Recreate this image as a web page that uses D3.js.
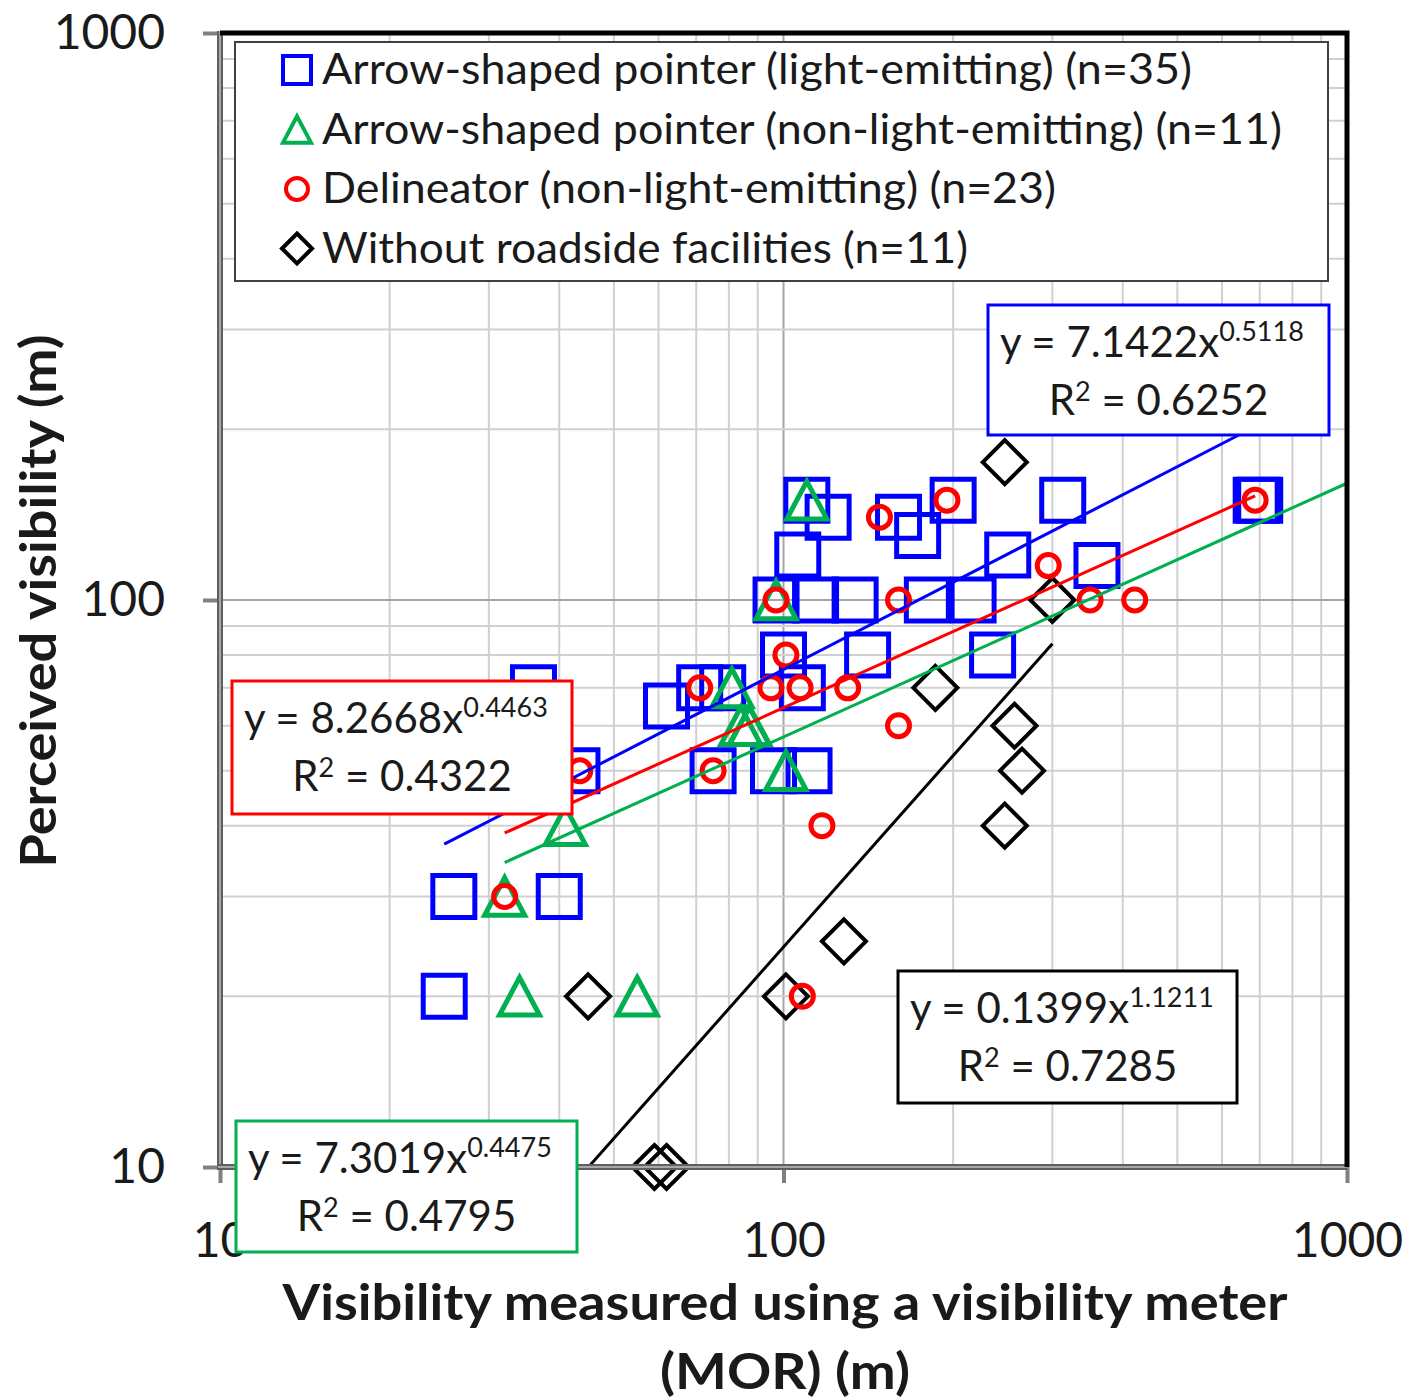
<!DOCTYPE html>
<html>
<head>
<meta charset="utf-8">
<script src="https://cdn.jsdelivr.net/npm/d3@7"></script>
<style>
body { margin: 0; background: #fff; }
svg { display: block; }
text { font-family: Lato, "Open Sans", sans-serif; fill: #1a1a1a; }
</style>
</head>
<body>
<svg id="chart" width="1411" height="1397"></svg>
<script>
// axis ticks
var xTickValues = [10, 100, 1000];
var yTickValues = [10, 100, 1000];

// Arrow-shaped pointer (light-emitting)
var arrowLightX = [25, 26, 40, 36, 43, 62, 71, 78, 75, 96, 111, 100, 108, 110, 120, 106, 97, 114, 134, 180, 217, 160, 173, 200, 250, 313, 360, 690, 700, 235, 141];
var arrowLightY = [20, 30, 30, 70, 50, 65, 70, 70, 50, 50, 50, 80, 70, 150, 140, 120, 100, 100, 100, 100, 100, 140, 130, 150, 120, 150, 115, 150, 150, 80, 80];

// Arrow-shaped pointer (non-light-emitting)
var arrowDarkX = [110, 97, 81, 84, 87, 101, 41, 32, 34, 55, 87];
var arrowDarkY = [150, 100, 70, 60, 60, 50, 40, 30, 20, 20, 60];

// Delineator (non-light-emitting)
var delineatorX = [32, 43.5, 71, 75, 97, 101, 95, 107, 130, 117, 160, 148, 195, 160, 295, 350, 420, 687, 108];
var delineatorY = [30, 50, 70, 50, 100, 80, 70, 70, 70, 40, 60, 140, 150, 100, 115, 100, 100, 150, 20];

// Without roadside facilities
var noFacilityX = [247, 300, 186, 257, 265, 247, 128, 101, 45, 59, 62];
var noFacilityY = [175, 100, 70, 60, 50, 40, 25, 20, 20, 10, 10];

var seriesNames = [
  "Arrow-shaped pointer (light-emitting) (n=35)",
  "Arrow-shaped pointer (non-light-emitting) (n=11)",
  "Delineator (non-light-emitting) (n=23)",
  "Without roadside facilities (n=11)"
];
var seriesColors = ["#0000ff", "#00b050", "#ff0000", "#000000"];

// power trendlines y = a * x^b
var fitA = [7.1422, 7.3019, 8.2668, 0.1399];
var fitB = [0.5118, 0.4475, 0.4463, 1.1211];
var fitAText = ["7.1422", "7.3019", "8.2668", "0.1399"];
var fitBText = ["0.5118", "0.4475", "0.4463", "1.1211"];
var fitR2Text = ["0.6252", "0.4795", "0.4322", "0.7285"];
var fitForecastTo = [null, 1000, null, null];

var plotLeft = 220, plotRight = 1347, plotTop = 33, plotBottom = 1167;

var svg = d3.select("#chart");

var x = d3.scaleLog().domain([10, 1000]).range([plotLeft, plotRight]);
var y = d3.scaleLog().domain([10, 1000]).range([plotBottom, plotTop]);

function zip(xs, ys) {
  return xs.map(function(v, i) { return { x: v, y: ys[i] }; });
}
var series = [
  zip(arrowLightX, arrowLightY),
  zip(arrowDarkX, arrowDarkY),
  zip(delineatorX, delineatorY),
  zip(noFacilityX, noFacilityY)
];

// gridlines
var minorTicks = [];
[10, 100].forEach(function(base) {
  for (var k = 2; k <= 9; k++) minorTicks.push(base * k);
});
minorTicks.push(100);
var grid = svg.append("g");
grid.selectAll(".vx").data(minorTicks).enter().append("line")
  .attr("x1", function(d) { return x(d); }).attr("x2", function(d) { return x(d); })
  .attr("y1", plotTop).attr("y2", plotBottom)
  .attr("stroke", function(d) { return d === 100 ? "#a6a6a6" : "#d0d0d0"; })
  .attr("stroke-width", 2);
grid.selectAll(".hy").data(minorTicks).enter().append("line")
  .attr("y1", function(d) { return y(d); }).attr("y2", function(d) { return y(d); })
  .attr("x1", plotLeft).attr("x2", plotRight)
  .attr("stroke", function(d) { return d === 100 ? "#a6a6a6" : "#d0d0d0"; })
  .attr("stroke-width", 2);

// markers
function shapePath(shape, s) {
  if (shape === "square") return "M" + (-s / 2) + "," + (-s / 2) + "h" + s + "v" + s + "h" + (-s) + "Z";
  if (shape === "triangle") return "M0," + (-s * 0.47) + "L" + (s * 0.5) + "," + (s * 0.47) + "L" + (-s * 0.5) + "," + (s * 0.47) + "Z";
  if (shape === "diamond") return "M0," + (-s / 2) + "L" + (s / 2) + ",0L0," + (s / 2) + "L" + (-s / 2) + ",0Z";
  return d3.symbol(d3.symbolCircle, Math.PI * s * s / 4)();
}
var shapes = ["square", "triangle", "circle", "diamond"];
var markerSize = [42, 40, 22, 44];
var markerStroke = [5, 5, 5, 4];
var drawOrder = [0, 1, 3, 2];

svg.append("clipPath").attr("id", "clip").append("rect")
  .attr("x", plotLeft).attr("y", plotTop).attr("width", plotRight - plotLeft).attr("height", plotBottom - plotTop);
var marks = svg.append("g");
drawOrder.forEach(function(si) {
  marks.append("g").selectAll("path").data(series[si]).enter().append("path")
    .attr("transform", function(d) { return "translate(" + x(d.x) + "," + y(d.y) + ")"; })
    .attr("d", shapePath(shapes[si], markerSize[si]))
    .attr("fill", "none")
    .attr("stroke", seriesColors[si])
    .attr("stroke-width", markerStroke[si])
    .attr("stroke-linejoin", "miter");
});

// trendlines
var trend = svg.append("g").attr("clip-path", "url(#clip)");
series.forEach(function(pts, si) {
  var ext = d3.extent(pts, function(d) { return d.x; });
  if (fitForecastTo[si]) ext[1] = fitForecastTo[si];
  var line = d3.line()
    .x(function(v) { return x(v); })
    .y(function(v) { return y(fitA[si] * Math.pow(v, fitB[si])); });
  trend.append("path")
    .attr("d", line(ext))
    .attr("fill", "none")
    .attr("stroke", seriesColors[si])
    .attr("stroke-width", 3);
});

// axes
var yAxis = d3.axisLeft(y).tickValues(yTickValues).tickFormat(d3.format("d")).tickSize(17).tickPadding(38);
var gy = svg.append("g").attr("transform", "translate(" + plotLeft + ",0)").call(yAxis);
var xAxis = d3.axisBottom(x).tickValues(xTickValues).tickFormat(d3.format("d")).tickSize(16).tickPadding(40);
var gx = svg.append("g").attr("transform", "translate(0," + plotBottom + ")").call(xAxis);
[gx, gy].forEach(function(g) {
  g.select(".domain").remove();
  g.selectAll(".tick line").attr("stroke", "#808080").attr("stroke-width", 4);
  g.selectAll(".tick text").attr("font-size", 48).attr("fill", "#1a1a1a")
    .style("font-family", "Lato, 'Open Sans', sans-serif");
});

// axis lines (gray double) and plot frame (black)
function doubleLine(x1, y1, x2, y2) {
  svg.append("line").attr("x1", x1).attr("y1", y1).attr("x2", x2).attr("y2", y2)
    .attr("stroke", "#5f5f5f").attr("stroke-width", 6);
  svg.append("line").attr("x1", x1).attr("y1", y1).attr("x2", x2).attr("y2", y2)
    .attr("stroke", "#a8a8a8").attr("stroke-width", 2);
}
doubleLine(plotLeft, plotTop - 2, plotLeft, plotBottom + 3);
doubleLine(plotLeft - 2, plotBottom, plotRight, plotBottom);
svg.append("path")
  .attr("d", "M" + plotLeft + "," + plotTop + "H" + plotRight + "V" + plotBottom)
  .attr("fill", "none").attr("stroke", "#000").attr("stroke-width", 5);

// equation labels
var labelBoxes = [
  { x0: 988, y0: 305, x1: 1329, y1: 435 },
  { x0: 236, y0: 1121, x1: 577, y1: 1252 },
  { x0: 232, y0: 681, x1: 572, y1: 814 },
  { x0: 898, y0: 971, x1: 1237, y1: 1103 }
];
labelBoxes.forEach(function(b, si) {
  var g = svg.append("g");
  g.append("rect").attr("x", b.x0).attr("y", b.y0)
    .attr("width", b.x1 - b.x0).attr("height", b.y1 - b.y0)
    .attr("fill", "#fff").attr("stroke", seriesColors[si]).attr("stroke-width", 3);
  var t1 = g.append("text").attr("x", b.x0 + 12).attr("y", b.y0 + 52).attr("font-size", 42);
  t1.append("tspan").text("y = " + fitAText[si] + "x");
  t1.append("tspan").attr("dy", -16).attr("font-size", 27).text(fitBText[si]);
  var t2 = g.append("text").attr("x", (b.x0 + b.x1) / 2).attr("y", b.y0 + 110)
    .attr("text-anchor", "middle").attr("font-size", 42);
  t2.append("tspan").text("R");
  t2.append("tspan").attr("dy", -14).attr("font-size", 27).text("2");
  t2.append("tspan").attr("dy", 14).text(" = " + fitR2Text[si]);
});

// legend
var legend = svg.append("g");
legend.append("rect").attr("x", 235).attr("y", 42).attr("width", 1093).attr("height", 239)
  .attr("fill", "#fff").attr("stroke", "#404040").attr("stroke-width", 2);
var legendSize = [28, 28, 22, 30];
var legendWidths = [870, 960, 734, 646];
seriesNames.forEach(function(name, si) {
  var cy = 70 + si * 59.5;
  legend.append("path")
    .attr("transform", "translate(297," + cy + ")")
    .attr("d", shapePath(shapes[si], legendSize[si]))
    .attr("fill", "none").attr("stroke", seriesColors[si]).attr("stroke-width", 4);
  legend.append("text").attr("x", 322).attr("y", cy + 14)
    .attr("font-size", 42)
    .attr("textLength", legendWidths[si]).attr("lengthAdjust", "spacingAndGlyphs")
    .text(name);
});

// axis titles
svg.append("text")
  .attr("transform", "translate(56,601) rotate(-90)")
  .attr("text-anchor", "middle").attr("font-size", 50).attr("font-weight", "bold")
  .attr("textLength", 533).attr("lengthAdjust", "spacingAndGlyphs")
  .text("Perceived visibility (m)");
svg.append("text")
  .attr("x", 785).attr("y", 1320)
  .attr("text-anchor", "middle").attr("font-size", 50).attr("font-weight", "bold")
  .attr("textLength", 1005).attr("lengthAdjust", "spacingAndGlyphs")
  .text("Visibility measured using a visibility meter");
svg.append("text")
  .attr("x", 785).attr("y", 1389)
  .attr("text-anchor", "middle").attr("font-size", 50).attr("font-weight", "bold")
  .attr("textLength", 250).attr("lengthAdjust", "spacingAndGlyphs")
  .text("(MOR) (m)");
</script>
</body>
</html>
